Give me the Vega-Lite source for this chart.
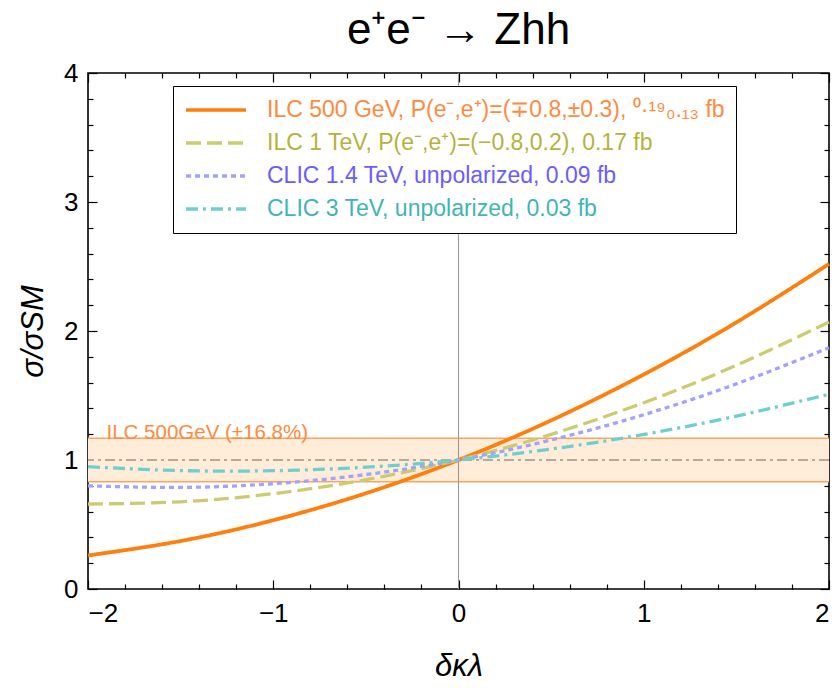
{
  "$schema": "https://vega.github.io/schema/vega-lite/v6.json",
  "width": 741,
  "height": 516,
  "autosize": {"type": "none"},
  "padding": {"left": 88, "top": 73, "right": 8, "bottom": 99},
  "background": "white",
  "title": {"text": "e⁺e⁻ → Zhh", "font": "Liberation Sans", "fontSize": 44, "fontWeight": "normal", "color": "black", "anchor": "middle", "offset": 7},
  "config": {
    "view": {"stroke": "black", "strokeWidth": 1.6},
    "axis": {"domain": false, "grid": false, "labelFont": "Liberation Sans", "labelFontSize": 26, "labelColor": "black", "tickColor": "black", "tickWidth": 1.2, "titleFont": "Liberation Sans", "titleFontSize": 31, "titleFontWeight": "normal", "titleFontStyle": "italic", "titleColor": "black"}
  },
  "datasets": {
    "curves": [
      {"x": -2, "y": 0.26, "s": "ILC 500 GeV, P(e⁻,e⁺)=(∓0.8,±0.3), ⁰·¹⁹₀.₁₃ fb"},
      {"x": -1.5, "y": 0.372, "s": "ILC 500 GeV, P(e⁻,e⁺)=(∓0.8,±0.3), ⁰·¹⁹₀.₁₃ fb"},
      {"x": -1, "y": 0.533, "s": "ILC 500 GeV, P(e⁻,e⁺)=(∓0.8,±0.3), ⁰·¹⁹₀.₁₃ fb"},
      {"x": -0.5, "y": 0.742, "s": "ILC 500 GeV, P(e⁻,e⁺)=(∓0.8,±0.3), ⁰·¹⁹₀.₁₃ fb"},
      {"x": 0, "y": 1.0, "s": "ILC 500 GeV, P(e⁻,e⁺)=(∓0.8,±0.3), ⁰·¹⁹₀.₁₃ fb"},
      {"x": 0.5, "y": 1.307, "s": "ILC 500 GeV, P(e⁻,e⁺)=(∓0.8,±0.3), ⁰·¹⁹₀.₁₃ fb"},
      {"x": 1, "y": 1.663, "s": "ILC 500 GeV, P(e⁻,e⁺)=(∓0.8,±0.3), ⁰·¹⁹₀.₁₃ fb"},
      {"x": 1.5, "y": 2.067, "s": "ILC 500 GeV, P(e⁻,e⁺)=(∓0.8,±0.3), ⁰·¹⁹₀.₁₃ fb"},
      {"x": 2, "y": 2.52, "s": "ILC 500 GeV, P(e⁻,e⁺)=(∓0.8,±0.3), ⁰·¹⁹₀.₁₃ fb"},
      {"x": -2, "y": 0.659, "s": "ILC 1 TeV, P(e⁻,e⁺)=(−0.8,0.2), 0.17 fb"},
      {"x": -1.5, "y": 0.676, "s": "ILC 1 TeV, P(e⁻,e⁺)=(−0.8,0.2), 0.17 fb"},
      {"x": -1, "y": 0.739, "s": "ILC 1 TeV, P(e⁻,e⁺)=(−0.8,0.2), 0.17 fb"},
      {"x": -0.5, "y": 0.847, "s": "ILC 1 TeV, P(e⁻,e⁺)=(−0.8,0.2), 0.17 fb"},
      {"x": 0, "y": 1.0, "s": "ILC 1 TeV, P(e⁻,e⁺)=(−0.8,0.2), 0.17 fb"},
      {"x": 0.5, "y": 1.199, "s": "ILC 1 TeV, P(e⁻,e⁺)=(−0.8,0.2), 0.17 fb"},
      {"x": 1, "y": 1.444, "s": "ILC 1 TeV, P(e⁻,e⁺)=(−0.8,0.2), 0.17 fb"},
      {"x": 1.5, "y": 1.734, "s": "ILC 1 TeV, P(e⁻,e⁺)=(−0.8,0.2), 0.17 fb"},
      {"x": 2, "y": 2.069, "s": "ILC 1 TeV, P(e⁻,e⁺)=(−0.8,0.2), 0.17 fb"},
      {"x": -2, "y": 0.8, "s": "CLIC 1.4 TeV, unpolarized, 0.09 fb"},
      {"x": -1.5, "y": 0.788, "s": "CLIC 1.4 TeV, unpolarized, 0.09 fb"},
      {"x": -1, "y": 0.816, "s": "CLIC 1.4 TeV, unpolarized, 0.09 fb"},
      {"x": -0.5, "y": 0.887, "s": "CLIC 1.4 TeV, unpolarized, 0.09 fb"},
      {"x": 0, "y": 1.0, "s": "CLIC 1.4 TeV, unpolarized, 0.09 fb"},
      {"x": 0.5, "y": 1.155, "s": "CLIC 1.4 TeV, unpolarized, 0.09 fb"},
      {"x": 1, "y": 1.351, "s": "CLIC 1.4 TeV, unpolarized, 0.09 fb"},
      {"x": 1.5, "y": 1.59, "s": "CLIC 1.4 TeV, unpolarized, 0.09 fb"},
      {"x": 2, "y": 1.87, "s": "CLIC 1.4 TeV, unpolarized, 0.09 fb"},
      {"x": -2, "y": 0.948, "s": "CLIC 3 TeV, unpolarized, 0.03 fb"},
      {"x": -1.5, "y": 0.918, "s": "CLIC 3 TeV, unpolarized, 0.03 fb"},
      {"x": -1, "y": 0.917, "s": "CLIC 3 TeV, unpolarized, 0.03 fb"},
      {"x": -0.5, "y": 0.944, "s": "CLIC 3 TeV, unpolarized, 0.03 fb"},
      {"x": 0, "y": 1.0, "s": "CLIC 3 TeV, unpolarized, 0.03 fb"},
      {"x": 0.5, "y": 1.085, "s": "CLIC 3 TeV, unpolarized, 0.03 fb"},
      {"x": 1, "y": 1.198, "s": "CLIC 3 TeV, unpolarized, 0.03 fb"},
      {"x": 1.5, "y": 1.34, "s": "CLIC 3 TeV, unpolarized, 0.03 fb"},
      {"x": 2, "y": 1.51, "s": "CLIC 3 TeV, unpolarized, 0.03 fb"}
    ]
  },
  "layer": [
    {
      "data": {"values": [{"x1": -2, "x2": 2, "lo": 0.832, "hi": 1.168}]},
      "mark": {"type": "rect", "color": "#ffecd9"},
      "encoding": {
        "x": {"field": "x1", "type": "quantitative", "scale": {"domain": [-2, 2], "nice": false, "zero": false},
          "axis": {"orient": "bottom", "title": "δκλ", "titlePadding": 25,
            "values": [-2, -1.8, -1.6, -1.4, -1.2, -1, -0.8, -0.6, -0.4, -0.2, 0, 0.2, 0.4, 0.6, 0.8, 1, 1.2, 1.4, 1.6, 1.8, 2],
            "labelExpr": "abs(datum.value - round(datum.value)) < 0.001 ? (datum.value < -0.5 ? '−' + abs(round(datum.value)) : '' + round(datum.value)) : ''",
            "tickSize": {"condition": {"test": "abs(datum.value - round(datum.value)) < 0.001", "value": -9}, "value": -5},
            "labelPadding": 20}},
        "x2": {"field": "x2"},
        "y": {"field": "lo", "type": "quantitative", "scale": {"domain": [0, 4], "nice": false},
          "axis": {"orient": "left", "title": "σ/σSM", "titlePadding": 14,
            "values": [0, 0.2, 0.4, 0.6, 0.8, 1, 1.2, 1.4, 1.6, 1.8, 2, 2.2, 2.4, 2.6, 2.8, 3, 3.2, 3.4, 3.6, 3.8, 4],
            "labelExpr": "abs(datum.value - round(datum.value)) < 0.001 ? '' + round(datum.value) : ''",
            "tickSize": {"condition": {"test": "abs(datum.value - round(datum.value)) < 0.001", "value": -9}, "value": -5},
            "labelPadding": 19}},
        "y2": {"field": "hi"}
      }
    },
    {
      "data": {"values": [{"y": 0.832}, {"y": 1.168}]},
      "mark": {"type": "rule", "color": "#ffa35a", "strokeWidth": 1.5},
      "encoding": {"y": {"field": "y", "type": "quantitative", "axis": null}}
    },
    {
      "data": {"values": [{"y": 1}]},
      "mark": {"type": "rule", "color": "#a09484", "strokeWidth": 1.4, "strokeDash": [10, 4, 3, 4]},
      "encoding": {"y": {"field": "y", "type": "quantitative", "axis": null}}
    },
    {
      "data": {"values": [{"x": 0}]},
      "mark": {"type": "rule", "color": "#999999", "strokeWidth": 1.1},
      "encoding": {"x": {"field": "x", "type": "quantitative", "axis": null}}
    },
    {
      "data": {"name": "curves"},
      "mark": {"type": "line", "interpolate": "natural", "strokeCap": "butt"},
      "encoding": {
        "x": {"field": "x", "type": "quantitative", "axis": null},
        "y": {"field": "y", "type": "quantitative", "axis": null},
        "color": {"field": "s", "type": "nominal",
          "scale": {"domain": ["ILC 500 GeV, P(e⁻,e⁺)=(∓0.8,±0.3), ⁰·¹⁹₀.₁₃ fb", "ILC 1 TeV, P(e⁻,e⁺)=(−0.8,0.2), 0.17 fb", "CLIC 1.4 TeV, unpolarized, 0.09 fb", "CLIC 3 TeV, unpolarized, 0.03 fb"],
            "range": ["#ff7f0e", "#cbcb70", "#a2a2ff", "#6fcfcf"]},
          "legend": {"orient": "none", "legendX": 85, "legendY": 13, "title": null, "strokeColor": "black", "fillColor": "white", "padding": 11,
            "symbolType": "stroke", "symbolSize": 3600, "symbolStrokeWidth": 3.5, "labelFont": "Liberation Sans", "labelFontSize": 23, "labelOffset": 19,
            "labelLimit": 700, "clipHeight": 26, "rowPadding": 7,
            "labelColor": {"expr": "datum.index == 0 ? '#ff8a3d' : datum.index == 1 ? '#b3b33c' : datum.index == 2 ? '#6a5cff' : '#3fb5b5'"}}},
        "strokeDash": {"field": "s", "type": "nominal",
          "scale": {"domain": ["ILC 500 GeV, P(e⁻,e⁺)=(∓0.8,±0.3), ⁰·¹⁹₀.₁₃ fb", "ILC 1 TeV, P(e⁻,e⁺)=(−0.8,0.2), 0.17 fb", "CLIC 1.4 TeV, unpolarized, 0.09 fb", "CLIC 3 TeV, unpolarized, 0.03 fb"],
            "range": [[1, 0], [15, 6], [5, 4], [12, 5, 3, 5]]},
          "legend": {"orient": "none", "legendX": 85, "legendY": 13, "title": null}},
        "strokeWidth": {"condition": {"test": "datum.s == 'ILC 500 GeV, P(e⁻,e⁺)=(∓0.8,±0.3), ⁰·¹⁹₀.₁₃ fb'", "value": 3.8}, "value": 3.3}
      }
    },
    {
      "data": {"values": [{"x": -1.9, "y": 1.168, "label": "ILC 500GeV (±16.8%)"}]},
      "mark": {"type": "text", "align": "left", "baseline": "alphabetic", "font": "Liberation Sans", "fontSize": 20.5, "color": "#ff8a3d", "dy": 1},
      "encoding": {
        "x": {"field": "x", "type": "quantitative", "axis": null},
        "y": {"field": "y", "type": "quantitative", "axis": null},
        "text": {"field": "label"}
      }
    },
    {
      "data": {"values": [{"x": 0, "y": 1}]},
      "mark": {"type": "point", "opacity": 0},
      "encoding": {
        "x": {"field": "x", "type": "quantitative",
          "axis": {"orient": "top", "title": null, "labels": false,
            "values": [-2, -1.8, -1.6, -1.4, -1.2, -1, -0.8, -0.6, -0.4, -0.2, 0, 0.2, 0.4, 0.6, 0.8, 1, 1.2, 1.4, 1.6, 1.8, 2],
            "tickSize": {"condition": {"test": "abs(datum.value - round(datum.value)) < 0.001", "value": -9}, "value": -5}}},
        "y": {"field": "y", "type": "quantitative",
          "axis": {"orient": "right", "title": null, "labels": false,
            "values": [0, 0.2, 0.4, 0.6, 0.8, 1, 1.2, 1.4, 1.6, 1.8, 2, 2.2, 2.4, 2.6, 2.8, 3, 3.2, 3.4, 3.6, 3.8, 4],
            "tickSize": {"condition": {"test": "abs(datum.value - round(datum.value)) < 0.001", "value": -9}, "value": -5}}}
      }
    }
  ],
  "resolve": {"axis": {"x": "independent", "y": "independent"}}
}
